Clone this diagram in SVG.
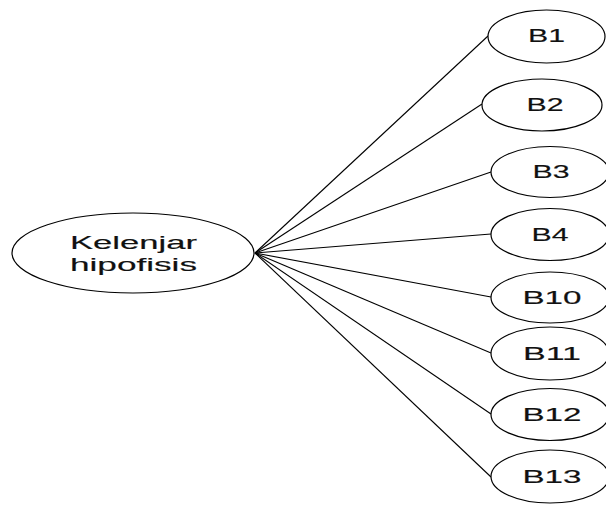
<svg xmlns="http://www.w3.org/2000/svg" width="606" height="509" viewBox="0 0 606 509">
  <style>
    .shape { fill: #ffffff; stroke: #000000; stroke-width: 1.2; }
    .edge { stroke: #000000; stroke-width: 1.1; fill: none; }
    .label { font-family: "Liberation Sans", Arial, sans-serif; font-size: 18px; fill: #111111; text-anchor: middle; stroke: #111111; stroke-width: 0.15; }
  </style>
  <rect width="606" height="509" fill="#ffffff"/>

  <!-- connectors from the hub to every branch -->
  <g id="connectors">
    <line class="edge" x1="255" y1="253" x2="488" y2="36"/>
    <line class="edge" x1="255" y1="253" x2="482" y2="104"/>
    <line class="edge" x1="255" y1="253" x2="491" y2="172"/>
    <line class="edge" x1="255" y1="253" x2="491" y2="234"/>
    <line class="edge" x1="255" y1="253" x2="491" y2="297"/>
    <line class="edge" x1="255" y1="253" x2="491" y2="353"/>
    <line class="edge" x1="255" y1="253" x2="491" y2="414"/>
    <line class="edge" x1="255" y1="253" x2="491" y2="477"/>
  </g>

  <g id="node-kelenjar">
    <ellipse class="shape" cx="133" cy="253" rx="121" ry="40"/>
    <text class="label" font-size="20" x="133.5" y="249" textLength="127" lengthAdjust="spacingAndGlyphs">Kelenjar</text>
    <text class="label" font-size="20" x="133.5" y="271" textLength="127" lengthAdjust="spacingAndGlyphs">hipofisis</text>
  </g>

  <g id="node-b1">
    <ellipse class="shape" cx="546.5" cy="36.5" rx="58.5" ry="26.5"/>
    <text class="label" x="546.5" y="42" textLength="37" lengthAdjust="spacingAndGlyphs">B1</text>
  </g>
  <g id="node-b2">
    <ellipse class="shape" cx="542" cy="105" rx="60" ry="26"/>
    <text class="label" x="545" y="111" textLength="37" lengthAdjust="spacingAndGlyphs">B2</text>
  </g>
  <g id="node-b3">
    <ellipse class="shape" cx="550" cy="172" rx="59" ry="25.5"/>
    <text class="label" x="551" y="178" textLength="37" lengthAdjust="spacingAndGlyphs">B3</text>
  </g>
  <g id="node-b4">
    <ellipse class="shape" cx="550" cy="234.5" rx="59" ry="26"/>
    <text class="label" x="550" y="241" textLength="37" lengthAdjust="spacingAndGlyphs">B4</text>
  </g>
  <g id="node-b10">
    <ellipse class="shape" cx="550" cy="297.5" rx="59" ry="25.5"/>
    <text class="label" x="552" y="304" textLength="59" lengthAdjust="spacingAndGlyphs">B10</text>
  </g>
  <g id="node-b11">
    <ellipse class="shape" cx="550" cy="353.5" rx="59" ry="26.5"/>
    <text class="label" x="552" y="360" textLength="58" lengthAdjust="spacingAndGlyphs">B11</text>
  </g>
  <g id="node-b12">
    <ellipse class="shape" cx="550" cy="414.5" rx="59" ry="26"/>
    <text class="label" x="552" y="421" textLength="59" lengthAdjust="spacingAndGlyphs">B12</text>
  </g>
  <g id="node-b13">
    <ellipse class="shape" cx="550" cy="476.5" rx="59" ry="26.5"/>
    <text class="label" x="552" y="483" textLength="59" lengthAdjust="spacingAndGlyphs">B13</text>
  </g>
</svg>
